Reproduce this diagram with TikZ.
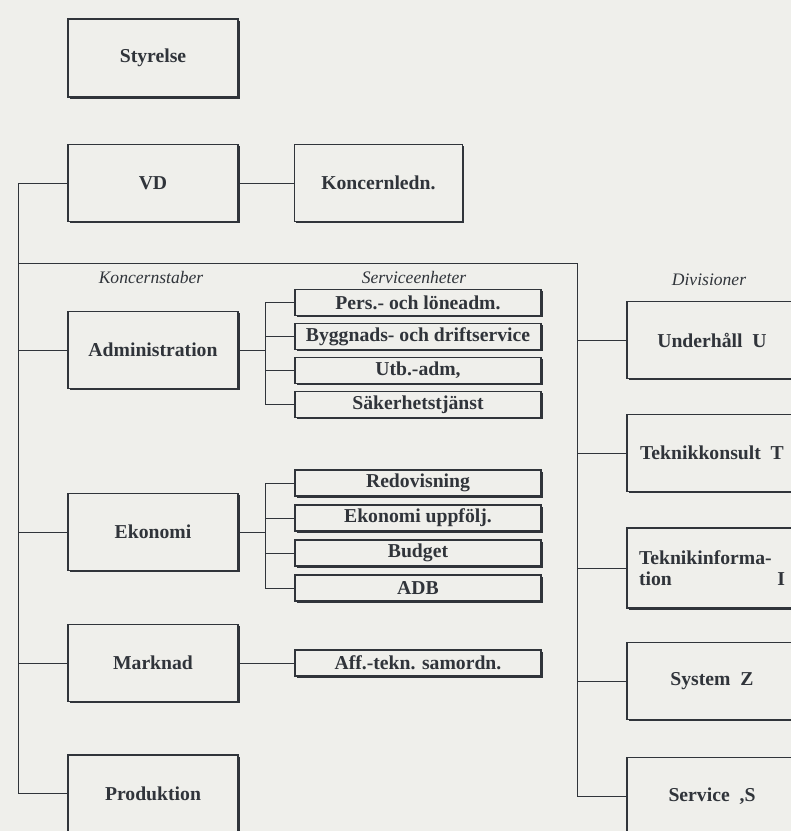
\documentclass[tikz,border=0pt]{standalone}
\usepackage{fontspec}
\setmainfont{Liberation Serif}
\usepackage{tikz}
\usetikzlibrary{shadows}
\usepackage{xcolor}
\definecolor{paper}{RGB}{239,239,235}
\definecolor{ink}{RGB}{48,52,58}

\tikzset{
  unit/.style={draw=ink, line width=0.9pt, fill=paper, text=ink,
    minimum width=4.25cm, minimum height=1.925cm,
    font=\fontsize{14}{15}\selectfont\bfseries,
    drop shadow={shadow xshift=1.4pt, shadow yshift=-1.4pt, opacity=1, fill=ink}},
  subunit/.style={draw=ink, line width=0.8pt, fill=paper, text=ink,
    minimum width=6.15cm, minimum height=0.65cm, inner sep=0pt,
    font=\fontsize{14}{15}\selectfont\bfseries,
    drop shadow={shadow xshift=1.1pt, shadow yshift=-1.1pt, opacity=1, fill=ink}},
  grouplabel/.style={text=ink, font=\fontsize{12.5}{14}\selectfont\itshape},
  link/.style={draw=ink, line width=0.6pt}
}

\begin{document}
\begin{tikzpicture}
            \useasboundingbox (0,0) rectangle (19.775,20.775);
            \clip (0,0) rectangle (19.775,20.775);
            \fill[paper] (0,0) rectangle (19.775,20.775);

            % Top of the organisation
            \node[unit, minimum height=1.95cm] (styr) at (3.825,19.325) {Styrelse};
            \node[unit] (vd) at (3.825,16.2) {VD};
            \node[unit, minimum width=4.2cm] (kled) at (9.46,16.2) {Koncernledn.};

            % Koncernstaber
            \node[unit] (adm) at (3.825,12.025) {Administration};
            \node[unit] (eko) at (3.825,7.475) {Ekonomi};
            \node[unit] (mark) at (3.825,4.2) {Marknad};
            \node[unit] (prod) at (3.825,0.9375) {Produktion};

            % Divisioner
            \node[unit] (und) at (17.8,12.275) {Underhåll\ \ U};
            \node[unit] (tkon) at (17.8,9.45) {Teknikkonsult\ \ T};
            \node[unit, minimum height=2cm, text width=3.65cm, align=left] (tinf) at (17.8,6.575) {Teknikinforma-\\tion\hfill I};
            \node[unit] (sys) at (17.8,3.75) {System\ \ Z};
            \node[unit] (serv) at (17.8,0.875) {Service\ \ ,S};

            % Serviceenheter
            \foreach \t [count=\i] in {Pers.- och löneadm., Byggnads- och driftservice, {Utb.-adm,}, Säkerhetstjänst}
              \node[subunit] (adm\i) at (10.45,{13.2125-0.85*(\i-1)}) {\t};
            \foreach \t [count=\i] in {Redovisning, Ekonomi uppfölj., Budget, ADB}
              \node[subunit] (eko\i) at (10.45,{8.7-0.875*(\i-1)}) {\t};
            \node[subunit] (aff) at (10.45,4.2) {Aff.-tekn. samordn.};

            % Group labels
            \node[grouplabel] (lstab) at (3.775,13.85) {Koncernstaber};
            \node[grouplabel] (lserv) at (10.35,13.85) {Serviceenheter};
            \node[grouplabel] (ldiv) at (17.725,13.775) {Divisioner};

            % Bus lines
            \coordinate (lbus) at (0.4625,14.2);
            \coordinate (rbus) at (14.425,14.2);
            \coordinate (abr) at (6.625,12.025);
            \coordinate (ebr) at (6.625,7.475);

            \draw[link] (vd.east) -- (kled.west);
            \draw[link] (vd.west) -- (vd.west -| lbus) -- (prod.west -| lbus) -- (prod.west);
            \draw[link] (lbus) -- (rbus) -- (serv.west -| rbus) -- (serv.west);
            \foreach \n in {adm, eko, mark}
              \draw[link] (\n.west) -- (\n.west -| lbus);
            \foreach \n in {und, tkon, tinf, sys}
              \draw[link] (\n.west) -- (\n.west -| rbus);

            % Branches to the service units
            \draw[link] (adm.east) -- (abr);
            \draw[link] (adm1.west) -- (adm1.west -| abr) -- (adm4.west -| abr) -- (adm4.west);
            \foreach \i in {2,3}
              \draw[link] (adm\i.west) -- (adm\i.west -| abr);
            \draw[link] (eko.east) -- (ebr);
            \draw[link] (eko1.west) -- (eko1.west -| ebr) -- (eko4.west -| ebr) -- (eko4.west);
            \foreach \i in {2,3}
              \draw[link] (eko\i.west) -- (eko\i.west -| ebr);
            \draw[link] (mark.east) -- (aff.west);
        \end{tikzpicture}
\end{document}
